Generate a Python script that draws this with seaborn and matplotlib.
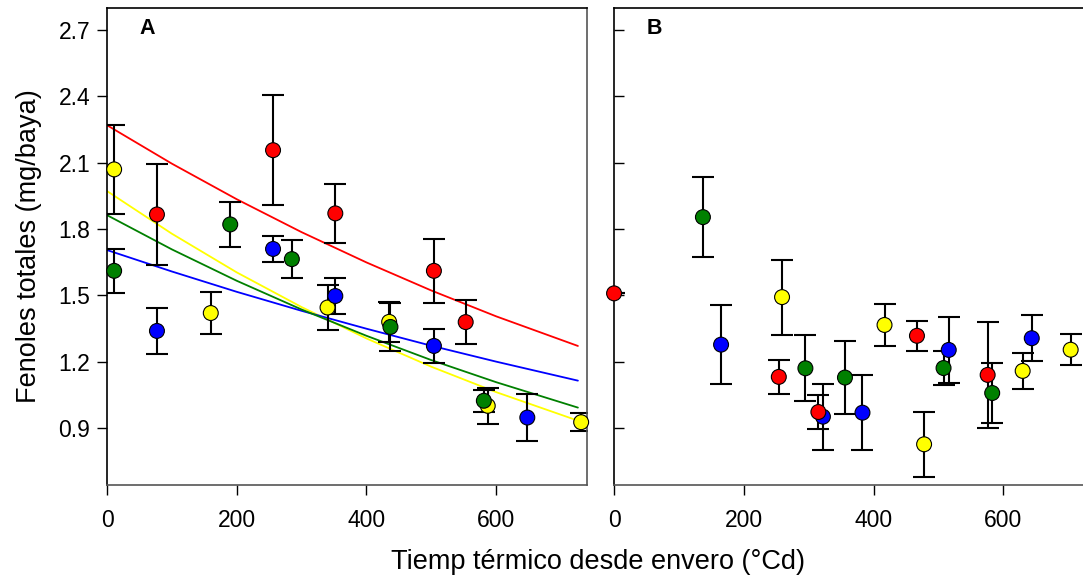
import matplotlib
matplotlib.use("Agg")
import matplotlib.pyplot as plt
import seaborn as sns
import pandas as pd
import numpy as np

# grupos (color de cada tratamiento)
grupos = ["amarillo", "azul", "verde", "rojo"]
colores = {"amarillo": "#ffff00", "azul": "#0000ff", "verde": "#008000", "rojo": "#ff0000"}

# Panel A - puntos
a_amarillo_x = [11, 160, 340, 435, 587, 731]
a_amarillo_y = [2.07, 1.42, 1.445, 1.38, 1.00, 0.926]
a_amarillo_e = [0.20, 0.095, 0.10, 0.09, 0.08, 0.04]

a_azul_x = [77, 256, 352, 504, 648]
a_azul_y = [1.339, 1.71, 1.497, 1.271, 0.947]
a_azul_e = [0.106, 0.06, 0.08, 0.075, 0.107]

a_verde_x = [11, 190, 285, 437, 581]
a_verde_y = [1.611, 1.821, 1.664, 1.357, 1.023]
a_verde_e = [0.10, 0.10, 0.085, 0.11, 0.05]

a_rojo_x = [77, 256, 352, 504, 553]
a_rojo_y = [1.866, 2.157, 1.871, 1.611, 1.379]
a_rojo_e = [0.23, 0.25, 0.135, 0.145, 0.10]

# Panel A - curvas ajustadas
curva_x = [0, 100, 200, 300, 400, 500, 600, 726]
curva_rojo = [2.27, 2.096, 1.935, 1.786, 1.649, 1.522, 1.405, 1.271]
curva_azul = [1.705, 1.608, 1.516, 1.430, 1.349, 1.272, 1.200, 1.114]
curva_verde = [1.863, 1.708, 1.566, 1.436, 1.317, 1.207, 1.107, 0.992]
curva_amarillo = [1.972, 1.779, 1.604, 1.447, 1.305, 1.177, 1.062, 0.933]

# Panel B - puntos
b_amarillo_x = [259, 417, 478, 630, 704]
b_amarillo_y = [1.492, 1.366, 0.826, 1.158, 1.254]
b_amarillo_e = [0.17, 0.097, 0.147, 0.083, 0.07]

b_azul_x = [165, 322, 383, 516, 644]
b_azul_y = [1.277, 0.951, 0.969, 1.253, 1.306]
b_azul_e = [0.18, 0.15, 0.17, 0.15, 0.105]

b_verde_x = [137, 295, 356, 508, 583]
b_verde_y = [1.854, 1.170, 1.128, 1.171, 1.058]
b_verde_e = [0.18, 0.15, 0.165, 0.075, 0.135]

b_rojo_x = [0, 254, 315, 467, 576]
b_rojo_y = [1.509, 1.131, 0.972, 1.317, 1.140]
b_rojo_e = [0.0, 0.077, 0.075, 0.067, 0.24]


def tabla(datos):
    filas = []
    for g in grupos:
        xs, ys, es = datos[g]
        for x, y, e in zip(xs, ys, es):
            filas.append({"grupo": g, "x": x, "y": y, "e": e})
    return pd.DataFrame(filas)


dfA = tabla({"amarillo": (a_amarillo_x, a_amarillo_y, a_amarillo_e),
             "azul": (a_azul_x, a_azul_y, a_azul_e),
             "verde": (a_verde_x, a_verde_y, a_verde_e),
             "rojo": (a_rojo_x, a_rojo_y, a_rojo_e)})
dfB = tabla({"amarillo": (b_amarillo_x, b_amarillo_y, b_amarillo_e),
             "azul": (b_azul_x, b_azul_y, b_azul_e),
             "verde": (b_verde_x, b_verde_y, b_verde_e),
             "rojo": (b_rojo_x, b_rojo_y, b_rojo_e)})

curvas = pd.DataFrame({
    "x": curva_x * 4,
    "y": curva_amarillo + curva_azul + curva_verde + curva_rojo,
    "grupo": sum([[g] * len(curva_x) for g in grupos], []),
})

sns.set_style("ticks")
plt.rcParams["font.family"] = ["Liberation Sans", "DejaVu Sans"]
plt.rcParams.update({"text.color": "black", "axes.labelcolor": "black",
                     "xtick.color": "black", "ytick.color": "black",
                     "axes.edgecolor": "black"})

fig = plt.figure(figsize=(10.83, 5.78), dpi=100)
axA = fig.add_axes([0.0988, 0.161, 0.4432, 0.825])
axB = fig.add_axes([0.567, 0.161, 0.433, 0.825])

sns.lineplot(data=curvas, x="x", y="y", hue="grupo", palette=colores,
             linewidth=1.3, legend=False, ax=axA, zorder=2)

for ax, df in [(axA, dfA), (axB, dfB)]:
    ax.errorbar(df["x"], df["y"], yerr=df["e"], fmt="none", ecolor="black",
                elinewidth=1.5, capsize=8, capthick=1.5, zorder=2.5)
    sns.scatterplot(data=df, x="x", y="y", hue="grupo", palette=colores,
                    s=115, edgecolor="black", linewidth=0.8, legend=False,
                    ax=ax, zorder=3, clip_on=False)
    ax.set_ylim(0.642, 2.8)
    ax.set_yticks([0.9, 1.2, 1.5, 1.8, 2.1, 2.4, 2.7])
    ax.set_xticks([0, 200, 400, 600])
    ax.set_xlabel("")
    ax.set_ylabel("")
    ax.tick_params(axis="x", direction="out", length=7, width=1, labelsize=16.5, pad=10)
    for s in ax.spines.values():
        s.set_linewidth(1.2)

axA.set_xlim(0, 740)
axB.set_xlim(0, 723)

axA.tick_params(axis="y", direction="out", length=7, width=1, labelsize=16.5, pad=5)
axB.tick_params(axis="y", direction="in", length=7, width=1, labelleft=False)
axA.spines["right"].set_color("#555555")
axA.spines["bottom"].set_color("#555555")
axB.spines["bottom"].set_color("#555555")
axB.spines["right"].set_visible(False)

axA.text(0.083, 0.958, "A", transform=axA.transAxes, fontsize=15.5, fontweight="bold",
         ha="center", va="center")
axB.text(0.087, 0.958, "B", transform=axB.transAxes, fontsize=15.5, fontweight="bold",
         ha="center", va="center")

axA.set_ylabel("Fenoles totales (mg/baya)", fontsize=19.5, labelpad=12)
fig.text(0.552, 0.028, "Tiemp térmico desde envero (°Cd)", fontsize=19.5,
         ha="center", va="center")

fig.savefig("out.png", dpi=100)
